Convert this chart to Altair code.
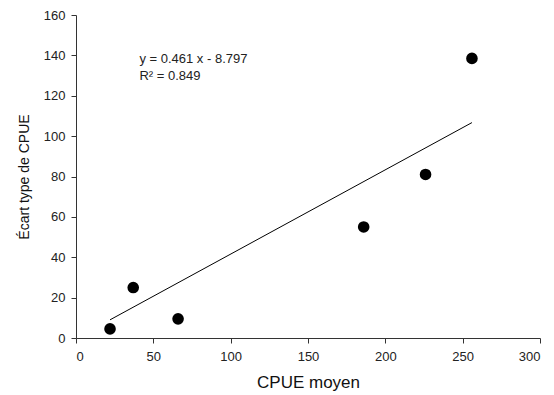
import altair as alt
import pandas as pd

# Observed data
cpue_moyen = [22, 37, 66, 186, 226, 256]
ecart_type = [4.5, 25, 9.5, 55, 81, 138.5]

# Fitted line as drawn (endpoints)
fit_x = [22, 256]
fit_y = [9.0, 106.7]

# Annotation
eq_lines = ["y = 0.461 x - 8.797", "R² = 0.849"]
eq_x = [41, 41]
eq_y = [136.0, 127.6]

pts = pd.DataFrame({"x": cpue_moyen, "y": ecart_type})
fit = pd.DataFrame({"x": fit_x, "y": fit_y})
ann = pd.DataFrame({"x": eq_x, "y": eq_y, "t": eq_lines})

FONT = "Liberation Sans"

xscale = alt.Scale(domain=[0, 300], nice=False, zero=False)
yscale = alt.Scale(domain=[0, 160], nice=False, zero=False)

xaxis = alt.Axis(title="CPUE moyen", values=[0, 50, 100, 150, 200, 250, 300],
                 grid=False, tickSize=5, labelFontSize=13, titleFontSize=17,
                 titleFontWeight="normal", titlePadding=11, labelPadding=7,
                 domainColor="#333333", tickColor="#333333", labelColor="#222222",
                 titleColor="#111111")
yaxis = alt.Axis(title="Écart type de CPUE", values=list(range(0, 161, 20)),
                 grid=False, tickSize=5, labelFontSize=13, titleFontSize=14,
                 titleFontWeight="normal", titlePadding=12, labelPadding=6,
                 domainColor="#333333", tickColor="#333333", labelColor="#222222",
                 titleColor="#111111")

points = alt.Chart(pts).mark_circle(size=135, color="black", opacity=1).encode(
    x=alt.X("x:Q", scale=xscale, axis=xaxis),
    y=alt.Y("y:Q", scale=yscale, axis=yaxis),
)

line = alt.Chart(fit).mark_line(color="black", strokeWidth=1).encode(
    x=alt.X("x:Q", scale=xscale),
    y=alt.Y("y:Q", scale=yscale),
)

text = alt.Chart(ann).mark_text(align="left", baseline="alphabetic", fontSize=13,
                                font=FONT, color="#222222").encode(
    x=alt.X("x:Q", scale=xscale),
    y=alt.Y("y:Q", scale=yscale),
    text="t:N",
)

chart = alt.layer(line, points, text).properties(
    width=464, height=323,
    autosize=alt.AutoSizeParams(type="none"),
    padding={"left": 68, "top": 7, "right": 6, "bottom": 56},
).configure_view(stroke=None).configure_axis(
    labelFont=FONT, titleFont=FONT
)

chart.save("out.html", embed_options={"renderer": "svg", "actions": False})
